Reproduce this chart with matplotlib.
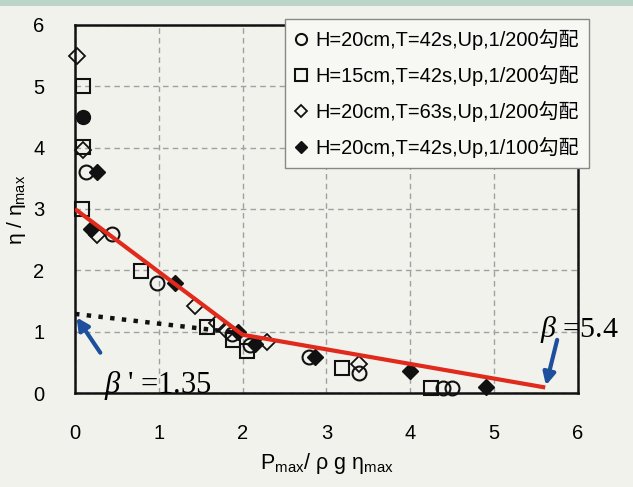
import matplotlib
matplotlib.use("Agg")
import matplotlib.pyplot as plt
from matplotlib.patches import Rectangle

plt.rcParams['font.family'] = ['Liberation Sans', 'Noto Sans CJK JP', 'DejaVu Sans']
plt.rcParams['mathtext.fontset'] = 'custom'
plt.rcParams['mathtext.rm'] = 'Liberation Sans'
plt.rcParams['mathtext.it'] = 'Liberation Serif:italic'

# ---- data ----
circ_x = [0.13, 0.44, 0.98, 1.87, 2.09, 2.79, 3.39, 4.39, 4.50]
circ_y = [3.60, 2.60, 1.80, 0.96, 0.78, 0.58, 0.33, 0.08, 0.08]
sq_x = [0.10, 0.10, 0.08, 0.79, 1.58, 1.89, 2.05, 3.19, 4.25]
sq_y = [5.00, 4.01, 3.00, 1.99, 1.08, 0.86, 0.69, 0.40, 0.08]
dia_x = [0.02, 0.10, 0.26, 1.43, 1.69, 1.81, 2.29, 3.39]
dia_y = [5.50, 3.96, 2.58, 1.42, 1.14, 1.01, 0.83, 0.47]
fdia_x = [0.26, 0.19, 1.19, 1.95, 2.15, 2.86, 4.00, 4.90]
fdia_y = [3.60, 2.67, 1.80, 1.00, 0.80, 0.58, 0.36, 0.10]
fcirc_x = [0.10]
fcirc_y = [4.50]

labels = ["H=20cm,T=42s,Up,1/200勾配", "H=15cm,T=42s,Up,1/200勾配",
          "H=20cm,T=63s,Up,1/200勾配", "H=20cm,T=42s,Up,1/100勾配"]

fit_x = [0.0, 2.0, 5.61]
fit_y = [3.0, 0.95, 0.09]
dot_x = [0.0, 1.95]
dot_y = [1.29, 0.98]

xticks = [0, 1, 2, 3, 4, 5, 6]
yticks = [0, 1, 2, 3, 4, 5, 6]

bg = '#f2f2ec'
fig = plt.figure(figsize=(6.33, 4.87), dpi=100, facecolor=bg)
fig.patches.append(Rectangle((0, 1 - 6 / 487), 1, 6 / 487, transform=fig.transFigure,
                             facecolor='#bcd5ca', edgecolor='none', zorder=0))
ax = fig.add_axes([0.1185, 0.193, 0.7945, 0.7557])
ax.set_facecolor(bg)
ax.set_xlim(0, 6)
ax.set_ylim(0, 6)
ax.set_xticks(xticks)
ax.set_yticks(yticks)
ax.tick_params(length=0, labelsize=14.5)
ax.tick_params(axis='x', pad=22)
ax.tick_params(axis='y', pad=22)
ax.grid(True, color='#a0a0a0', linestyle=(0, (4, 3)), linewidth=1)
for s in ax.spines.values():
    s.set_linewidth(1.8)
    s.set_color('#111111')

ms = 10
ax.plot(circ_x, circ_y, 'o', ms=ms, mfc='none', mec='#111111', mew=1.5, clip_on=False, zorder=4, label=labels[0])
ax.plot(sq_x, sq_y, 's', ms=ms, mfc='none', mec='#111111', mew=1.5, clip_on=False, zorder=4, label=labels[1])
ax.plot(dia_x, dia_y, 'D', ms=8, mfc='none', mec='#111111', mew=1.3, clip_on=False, zorder=4, label=labels[2])
ax.plot(fdia_x, fdia_y, 'D', ms=8, mfc='#111111', mec='#111111', mew=1, clip_on=False, zorder=4, label=labels[3])
ax.plot(fcirc_x, fcirc_y, 'o', ms=ms, mfc='#111111', mec='#111111', clip_on=False, zorder=4, label='_nolegend_')

ax.plot(fit_x, fit_y, '-', color='#e02a1c', lw=3, zorder=5, solid_capstyle='butt')
ax.plot(dot_x, dot_y, ':', color='#111111', lw=3.2, zorder=5)

arrow_c = '#1d4f9c'
ax.annotate('', xy=(0.0, 1.27), xytext=(0.32, 0.62),
            arrowprops=dict(arrowstyle='-|>', color=arrow_c, lw=3, mutation_scale=18), zorder=6)
ax.annotate('', xy=(5.61, 0.08), xytext=(5.76, 0.91),
            arrowprops=dict(arrowstyle='-|>', color=arrow_c, lw=3, mutation_scale=18), annotation_clip=False, zorder=6)

ax.text(0.35, 0.0, r"$\beta$ ' =1.35", family='Liberation Serif', fontsize=22, ha='left', va='baseline', zorder=7)
ax.text(5.55, 0.92, r"$\beta$ =5.4", family='Liberation Serif', fontsize=21.5, ha='left', va='baseline', clip_on=False, zorder=7)

ax.set_xlabel(r"P$_{\rm max}$/ ρ g η$_{\rm max}$", fontsize=15.5, labelpad=6)

fig.text(0.045, 0.57, r"η / η$_{\rm max}$", rotation=90, fontsize=15, ha='right', va='center')

leg = ax.legend(loc='upper left', bbox_to_anchor=(0.450, 0.960), bbox_transform=fig.transFigure,
                fontsize=14.4, frameon=True, fancybox=False, edgecolor='#888888',
                facecolor='#f7f7f4', framealpha=1, labelspacing=0.75, handlelength=0.6,
                handletextpad=0.45, borderpad=0.5, borderaxespad=0, markerscale=0.8)
leg.get_frame().set_linewidth(1)
leg.set_zorder(10)
for t in leg.get_texts():
    t.set_family(['Liberation Sans', 'Noto Sans CJK JP'])

fig.savefig('out.png', dpi=100, facecolor=bg)
